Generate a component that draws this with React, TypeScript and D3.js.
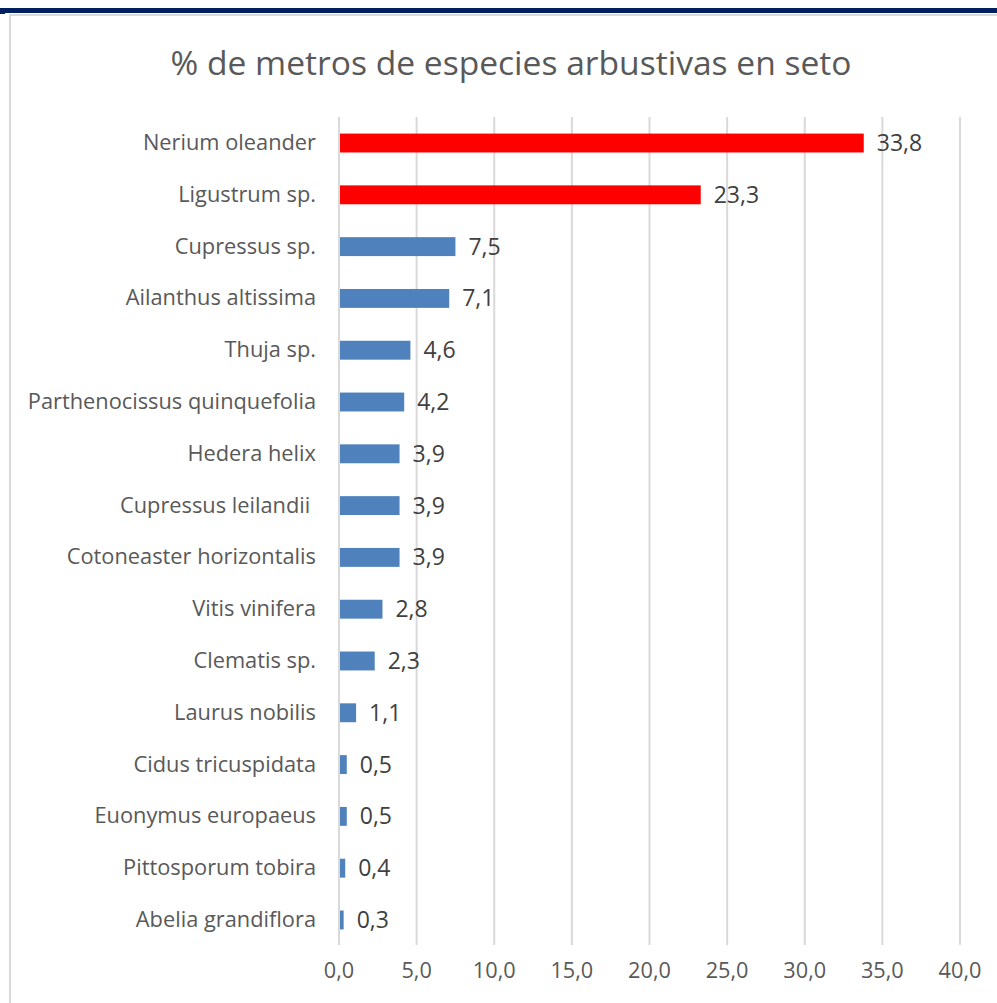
import React from "react";
import * as d3 from "d3";

const categories = [
  "Nerium oleander",
  "Ligustrum sp.",
  "Cupressus sp.",
  "Ailanthus altissima",
  "Thuja sp.",
  "Parthenocissus quinquefolia",
  "Hedera helix",
  "Cupressus leilandii ",
  "Cotoneaster horizontalis",
  "Vitis vinifera",
  "Clematis sp.",
  "Laurus nobilis",
  "Cidus tricuspidata",
  "Euonymus europaeus",
  "Pittosporum tobira",
  "Abelia grandiflora",
];
const values = [33.8, 23.3, 7.5, 7.1, 4.6, 4.2, 3.9, 3.9, 3.9, 2.8, 2.3, 1.1, 0.5, 0.5, 0.4, 0.3];
const highlighted = ["Nerium oleander", "Ligustrum sp."];
const ticks = [0, 5, 10, 15, 20, 25, 30, 35, 40];
const title = "% de metros de especies arbustivas en seto";

const W = 997;
const H = 1003;
const FONT = "'Open Sans', 'Noto Sans', sans-serif";

export default function App() {
  const x = d3.scaleLinear().domain([0, 40]).range([339, 960]);
  const y = d3.scaleBand().domain(categories).range([117, 946]).paddingInner(0.635).paddingOuter(0.32);
  const fmt = (v: number) => v.toFixed(1).replace(".", ",");
  return (
    <svg width={W} height={H} style={{ position: "absolute", left: 0, top: 0 }}>
      <rect x={0} y={0} width={W} height={H} fill="#fff" />
      <rect x={0} y={8} width={W} height={5} fill="#002060" />
      <rect x={0} y={8} width={5} height={6} fill="#002060" />
      <line x1={10} y1={15} x2={W} y2={15} stroke="#d9d9d9" strokeWidth={2} />
      <line x1={10} y1={14} x2={10} y2={H} stroke="#d9d9d9" strokeWidth={2} />
      <text x={511} y={75} textAnchor="middle" fontFamily={FONT} fontSize={33.6} fill="#595959">
        {title}
      </text>
      {ticks.map((t) => (
        <g key={t}>
          <line x1={x(t)} x2={x(t)} y1={117} y2={945} stroke="#d9d9d9" strokeWidth={2} />
          <text x={x(t)} y={978} textAnchor="middle" fontFamily={FONT} fontSize={21.7} fill="#595959">
            {fmt(t)}
          </text>
        </g>
      ))}
      {categories.map((c, i) => {
        const yy = y(c)!;
        const bw = y.bandwidth();
        const red = highlighted.includes(c);
        return (
          <g key={c}>
            <rect x={x(0) + 1} y={yy} width={x(values[i]) - x(0) - 1} height={bw} fill={red ? "#ff0000" : "#4f81bd"} />
            <text x={316} y={yy + bw / 2 + 7} textAnchor="end" fontFamily={FONT} fontSize={21.8} fill="#595959" style={{ whiteSpace: "pre" }}>
              {c}
            </text>
            <text x={x(values[i]) + 13} y={yy + bw / 2 + 8} fontFamily={FONT} fontSize={23} fill="#404040">
              {fmt(values[i])}
            </text>
          </g>
        );
      })}
    </svg>
  );
}
